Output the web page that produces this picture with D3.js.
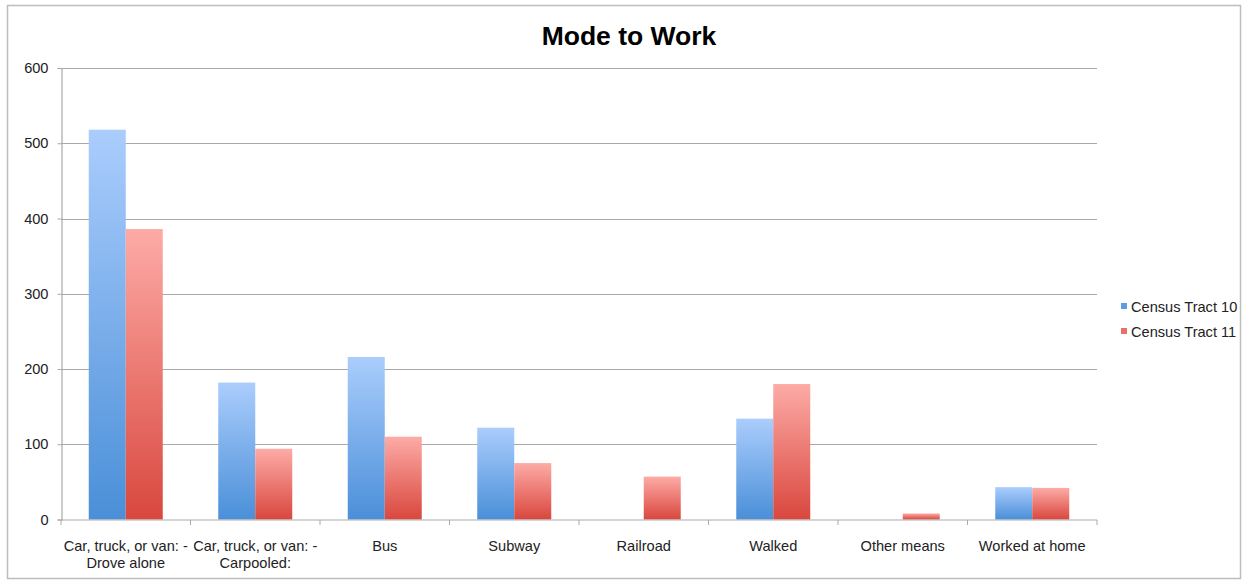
<!DOCTYPE html>
<html>
<head>
<meta charset="utf-8">
<script src="https://cdn.jsdelivr.net/npm/d3@7"></script>
<style>
  html, body { margin: 0; padding: 0; background: #fff; }
  svg { display: block; font-family: "Liberation Sans", Arial, sans-serif; }
</style>
</head>
<body>
<svg id="chart" width="1244" height="581"></svg>
<script>
const categories = [
  ["Car, truck, or van: -", "Drove alone"],
  ["Car, truck, or van: -", "Carpooled:"],
  ["Bus"],
  ["Subway"],
  ["Railroad"],
  ["Walked"],
  ["Other means"],
  ["Worked at home"]
];
const seriesNames = ["Census Tract 10", "Census Tract 11"];
const tract10 = [518, 182, 216, 122, 0, 134, 0, 43];
const tract11 = [386, 94, 110, 75, 57, 180, 8, 42];
const yTicks = [0, 100, 200, 300, 400, 500, 600];
const title = "Mode to Work";

const svg = d3.select("#chart");
const plot = { left: 61, right: 1097, top: 68, bottom: 519.5 };
const FS = 14.6;

// outer border
svg.append("rect").attr("x", 7.5).attr("y", 5.5).attr("width", 1233).attr("height", 573)
  .attr("fill", "#fff").attr("stroke", "#bdbdbd").attr("stroke-width", 1.5);

// gradients
const defs = svg.append("defs");
const gradSpecs = [
  { id: "g0", top: "#abcdfd", bottom: "#4a8fd8" },
  { id: "g1", top: "#fdaba6", bottom: "#d9473e" }
];
gradSpecs.forEach(g => {
  const lg = defs.append("linearGradient").attr("id", g.id)
    .attr("x1", 0).attr("y1", 0).attr("x2", 0).attr("y2", 1);
  lg.append("stop").attr("offset", "0%").attr("stop-color", g.top);
  lg.append("stop").attr("offset", "100%").attr("stop-color", g.bottom);
});

const keys = categories.map((c, i) => i);
const x0 = d3.scaleBand().domain(keys).range([plot.left, plot.right]).padding(0);
const x1 = d3.scaleBand().domain([0, 1]).range([0, x0.bandwidth()]).paddingInner(0).paddingOuter(0.75);
const y = d3.scaleLinear().domain([0, 600]).range([plot.bottom, plot.top]);

// gridlines
svg.append("g").selectAll("line").data(yTicks.filter(t => t > 0)).join("line")
  .attr("x1", plot.left).attr("x2", plot.right)
  .attr("y1", d => Math.round(y(d)) + 0.5).attr("y2", d => Math.round(y(d)) + 0.5)
  .attr("stroke", "#a9a9a9").attr("stroke-width", 1.2);

// y axis
const yAxis = d3.axisLeft(y).tickValues(yTicks).tickSize(4).tickPadding(9);
const gy = svg.append("g").attr("transform", `translate(${plot.left + 0.5},0)`).call(yAxis);
gy.select(".domain").attr("stroke", "#a9a9a9").attr("stroke-width", 1.2);
gy.selectAll(".tick line").attr("stroke", "#a9a9a9");
gy.selectAll(".tick text").attr("font-size", FS).attr("fill", "#222")
  .attr("font-family", "'Liberation Sans', Arial, sans-serif");

// bars
const data = keys.map(i => ({ i, vals: [tract10[i], tract11[i]] }));
const groups = svg.append("g").selectAll("g").data(data).join("g")
  .attr("transform", d => `translate(${x0(d.i)},0)`);
groups.selectAll("rect").data(d => d.vals.map((v, s) => ({ v, s }))).join("rect")
  .attr("x", d => x1(d.s))
  .attr("width", x1.bandwidth())
  .attr("y", d => y(d.v))
  .attr("height", d => y(0) - y(d.v))
  .attr("fill", d => `url(#g${d.s})`);

// x axis
const xAxisScale = d3.scaleLinear().domain([0, categories.length]).range([plot.left, plot.right]);
const gx = svg.append("g").attr("transform", `translate(0,${plot.bottom + 0.5})`);
gx.append("line").attr("x1", plot.left).attr("x2", plot.right)
  .attr("stroke", "#a9a9a9").attr("stroke-width", 1.2);
gx.selectAll(".tk").data(d3.range(categories.length + 1)).join("line")
  .attr("x1", d => xAxisScale(d)).attr("x2", d => xAxisScale(d))
  .attr("y1", 0).attr("y2", 5).attr("stroke", "#a9a9a9");
const labels = gx.selectAll(".lbl").data(keys).join("text")
  .attr("x", d => x0(d) + x0.bandwidth() / 2)
  .attr("text-anchor", "middle").attr("font-size", FS).attr("fill", "#222");
labels.selectAll("tspan").data(d => categories[d].map((t, k) => ({ t, k, d }))).join("tspan")
  .attr("x", d => x0(d.d) + x0.bandwidth() / 2)
  .attr("y", d => 30.5 + d.k * 17.5)
  .text(d => d.t);

// title
svg.append("text").attr("x", 629).attr("y", 45).attr("text-anchor", "middle")
  .attr("font-size", 26.5).attr("font-weight", "bold").attr("fill", "#000").text(title);

// legend
const legendColors = ["#5b9ee6", "#e8706a"];
const lg = svg.append("g").attr("transform", "translate(1121,312)");
const items = lg.selectAll("g").data(seriesNames).join("g")
  .attr("transform", (d, i) => `translate(0,${i * 25})`);
items.append("rect").attr("x", 0).attr("y", -9).attr("width", 6).attr("height", 6)
  .attr("fill", (d, i) => legendColors[i]);
items.append("text").attr("x", 10).attr("y", 0)
  .attr("font-size", FS).attr("fill", "#222").text(d => d);
</script>
</body>
</html>
